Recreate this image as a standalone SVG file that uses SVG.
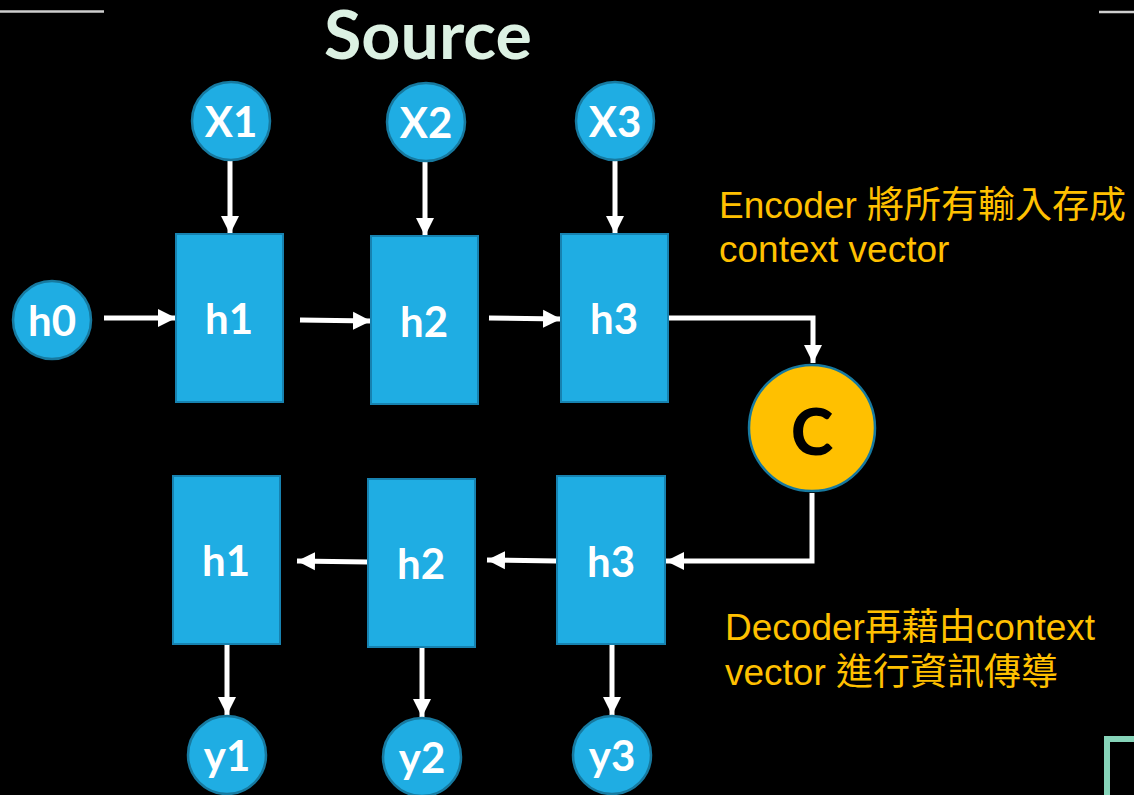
<svg xmlns="http://www.w3.org/2000/svg" width="1134" height="795" viewBox="0 0 1134 795">
  <style>
    .cell { fill: #1fade3; stroke: #1782b0; stroke-width: 2; }
    .io { fill: #1fade3; stroke: #17799f; stroke-width: 2.5; }
    .ctx { fill: #ffc000; stroke: #17799f; stroke-width: 2.5; }
    .lbl { font-family: Lato, "Open Sans", sans-serif; font-weight: 700; font-size: 42px; fill: #ffffff; text-anchor: middle; dominant-baseline: central; }
    .wire { stroke: #ffffff; stroke-width: 5; fill: none; marker-end: url(#head); }
    .note { font-family: "Liberation Sans", Arial, "Noto Sans CJK TC", sans-serif; font-size: 37px; fill: #ffc000; }
  </style>
  <defs>
    <marker id="head" markerUnits="userSpaceOnUse" markerWidth="18" markerHeight="20" viewBox="0 0 18 20" refX="18" refY="10" orient="auto">
      <path d="M0,1 L18,10 L0,19 Z" fill="#ffffff"/>
    </marker>
  </defs>

  <rect width="1134" height="795" fill="#000000"/>

  <!-- heading rules at the top edge -->
  <line x1="0" y1="11.5" x2="104" y2="11.5" stroke="#cfcfcf" stroke-width="2.5"/>
  <line x1="1099" y1="12" x2="1134" y2="12" stroke="#cfcfcf" stroke-width="2.5"/>
  <!-- frame at the bottom-right corner -->
  <rect x="1107" y="739" width="80" height="80" fill="none" stroke="#86d4b9" stroke-width="6"/>

  <text x="428" y="59" font-family="Lato, 'Open Sans', sans-serif" font-weight="700" font-size="66" fill="#dcf1e3" text-anchor="middle" textLength="208" lengthAdjust="spacingAndGlyphs">Source</text>

  <g id="connectors">
    <line class="wire" x1="230" y1="160" x2="230" y2="234"/>
    <line class="wire" x1="425" y1="161" x2="425" y2="236"/>
    <line class="wire" x1="615" y1="160" x2="615" y2="234"/>
    <line class="wire" x1="104" y1="318" x2="176" y2="318"/>
    <line class="wire" x1="300" y1="320" x2="371" y2="321"/>
    <line class="wire" x1="489" y1="318" x2="561" y2="319"/>
    <path class="wire" d="M668,318 H813 V363"/>
    <path class="wire" d="M812,493 V561 H666"/>
    <line class="wire" x1="557" y1="561" x2="487" y2="560"/>
    <line class="wire" x1="368" y1="562" x2="297" y2="561"/>
    <line class="wire" x1="227" y1="644" x2="227" y2="715"/>
    <line class="wire" x1="422" y1="647" x2="422" y2="717"/>
    <line class="wire" x1="612" y1="644" x2="612" y2="715"/>
  </g>

  <g id="x1"><circle class="io" cx="231" cy="121" r="39"/><text class="lbl" x="231" y="121">X1</text></g>
  <g id="x2"><circle class="io" cx="426" cy="122" r="39"/><text class="lbl" x="426" y="122">X2</text></g>
  <g id="x3"><circle class="io" cx="615" cy="121" r="39"/><text class="lbl" x="615" y="121">X3</text></g>

  <g id="h0"><circle class="io" cx="52" cy="320" r="39"/><text class="lbl" x="52" y="320">h0</text></g>

  <g id="enc-h1"><rect class="cell" x="176" y="234" width="107" height="168"/><text class="lbl" x="229" y="318">h1</text></g>
  <g id="enc-h2"><rect class="cell" x="371" y="236" width="107" height="168"/><text class="lbl" x="424" y="321">h2</text></g>
  <g id="enc-h3"><rect class="cell" x="561" y="234" width="107" height="168"/><text class="lbl" x="614" y="318">h3</text></g>

  <g id="context"><circle class="ctx" cx="812" cy="428" r="63"/><text class="lbl" x="812" y="430" style="fill:#000000;font-size:64px;font-weight:900">C</text></g>

  <g id="dec-h3"><rect class="cell" x="557" y="476" width="108" height="168"/><text class="lbl" x="611" y="561">h3</text></g>
  <g id="dec-h2"><rect class="cell" x="368" y="479" width="107" height="168"/><text class="lbl" x="421" y="563">h2</text></g>
  <g id="dec-h1"><rect class="cell" x="173" y="476" width="107" height="168"/><text class="lbl" x="226" y="560">h1</text></g>

  <g id="y1"><circle class="io" cx="227" cy="755" r="39"/><text class="lbl" x="227" y="755">y1</text></g>
  <g id="y2"><circle class="io" cx="422" cy="757" r="39"/><text class="lbl" x="422" y="757">y2</text></g>
  <g id="y3"><circle class="io" cx="612" cy="755" r="39"/><text class="lbl" x="612" y="755">y3</text></g>

  <g id="encoder-note">
    <text class="note" x="719" y="218">Encoder 將所有輸入存成</text>
    <text class="note" x="719" y="262">context vector</text>
  </g>
  <g id="decoder-note">
    <text class="note" x="725" y="640">Decoder再藉由context</text>
    <text class="note" x="725" y="685">vector 進行資訊傳導</text>
  </g>
</svg>
